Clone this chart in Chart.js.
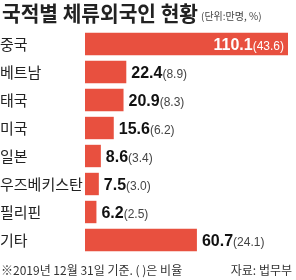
<!DOCTYPE html>
<html>
<head>
<meta charset="utf-8">
<script src="https://cdn.jsdelivr.net/npm/chart.js"></script>
<style>
  html, body { margin: 0; padding: 0; background: #fff; }
  #wrap { width: 296px; height: 280px; position: relative; }
</style>
</head>
<body>
<div id="wrap"><canvas id="myChart"></canvas></div>
<script>
// 데이터
const categories = ['중국', '베트남', '태국', '미국', '일본', '우즈베키스탄', '필리핀', '기타'];
const values = [110.1, 22.4, 20.9, 15.6, 8.6, 7.5, 6.2, 60.7];
const shares = [43.6, 8.9, 8.3, 6.2, 3.4, 3.0, 2.5, 24.1];

const RED = '#e8503f';
const KR = '"Noto Sans CJK KR", "Noto Sans", sans-serif';
const NUM = '"Liberation Sans Narrow", "Liberation Sans", sans-serif';

// 제목, 주석, 값 라벨 그리기
const extras = {
  id: 'extras',
  afterDatasetsDraw(chart) {
    const c = chart.ctx;
    c.save();
    c.textBaseline = 'alphabetic';
    c.fillStyle = '#222';
    c.font = 'bold 21px ' + KR;
    c.textAlign = 'left';
    const title = '국적별 체류외국인 현황';
    const tw = c.measureText(title).width;
    // 제목 폭을 원본에 맞게 살짝 좁힘
    c.save();
    c.scale(196 / tw, 1);
    c.fillText(title, 2 * tw / 196, 21);
    c.restore();
    c.font = '10px ' + KR;
    c.fillStyle = '#444';
    c.fillText('(단위:만명, %)', 201, 20);

    c.font = '12px ' + KR;
    c.fillStyle = '#333';
    c.fillText('※2019년 12월 31일 기준. ( )은 비율', 1, 275);
    c.textAlign = 'right';
    c.fillText('자료: 법무부', 292, 275);

    const meta = chart.getDatasetMeta(0);
    meta.data.forEach((bar, i) => {
      const num = values[i].toFixed(1);
      const pct = '(' + shares[i].toFixed(1) + ')';
      const y = bar.y + 6;
      c.font = 'bold 16px ' + NUM;
      const nw = c.measureText(num).width;
      c.font = '12px ' + NUM;
      const pw = c.measureText(pct).width;
      let x;
      if (i === 0) {
        x = bar.x - 4 - nw - pw;
        c.fillStyle = '#fff';
      } else {
        x = bar.x + 5;
        c.fillStyle = '#111';
      }
      c.textAlign = 'left';
      c.font = 'bold 16px ' + NUM;
      c.fillText(num, x, y);
      c.font = '12px ' + NUM;
      if (i !== 0) c.fillStyle = '#444';
      c.fillText(pct, x + nw, y);
    });
    c.restore();
  }
};

const ctx = document.getElementById('myChart');

new Chart(ctx, {
  type: 'bar',
  data: {
    labels: categories,
    datasets: [{
      data: values,
      backgroundColor: RED,
      barPercentage: 0.8,
      categoryPercentage: 1.0
    }]
  },
  options: {
    indexAxis: 'y',
    responsive: true,
    maintainAspectRatio: false,
    animation: false,
    layout: { padding: { top: 30, bottom: 26, left: 0, right: 8 } },
    plugins: {
      legend: { display: false },
      tooltip: { enabled: false }
    },
    scales: {
      x: {
        display: false,
        min: 0,
        max: 110.1
      },
      y: {
        grid: { display: false, drawTicks: false },
        border: { display: false },
        ticks: {
          crossAlign: 'far',
          color: '#222',
          padding: 0,
          font: { family: KR, size: 15 }
        },
        afterFit(scale) { scale.width = 85; }
      }
    }
  },
  plugins: [extras]
});
</script>
</body>
</html>
